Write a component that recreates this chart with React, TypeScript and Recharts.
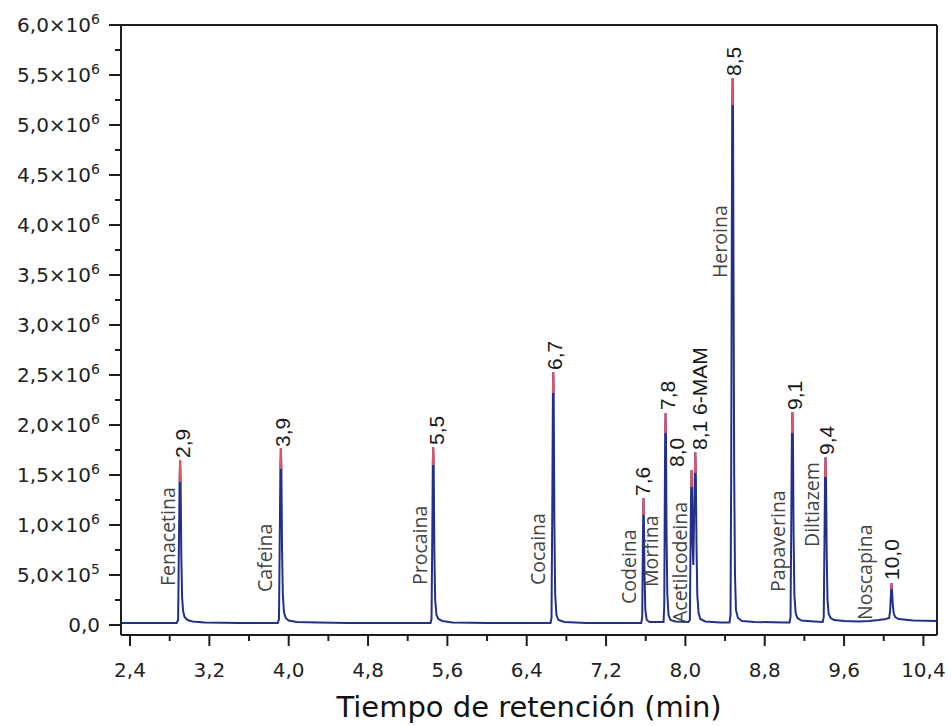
import React from "react";
import {
  ComposedChart,
  Line,
  Scatter,
  XAxis,
  YAxis,
  ReferenceLine,
  Label,
} from "recharts";

// cromatograma: [tiempo (min), intensidad (x10^6)]
const trace: [number, number][] = [
  [2.309, 0.02], [2.6, 0.02], [2.87, 0.02],
  // Fenacetina
  [2.885, 0.05], [2.893, 0.8], [2.9, 1.43], [2.905, 1.65], [2.91, 1.43], [2.917, 0.7],
  [2.925, 0.28], [2.935, 0.14], [2.95, 0.08], [2.98, 0.05], [3.03, 0.035], [3.15, 0.025],
  [3.5, 0.02], [3.89, 0.02],
  // Cafeina
  [3.902, 0.06], [3.91, 0.9], [3.916, 1.56], [3.921, 1.77], [3.926, 1.56], [3.933, 0.75],
  [3.941, 0.3], [3.952, 0.13], [3.97, 0.07], [4.0, 0.045], [4.08, 0.03], [4.3, 0.025],
  [4.6, 0.02], [5.0, 0.02], [5.43, 0.02],
  // Procaina
  [5.44, 0.06], [5.448, 0.9], [5.453, 1.6], [5.457, 1.78], [5.462, 1.6], [5.469, 0.7],
  [5.477, 0.25], [5.49, 0.1], [5.51, 0.06], [5.55, 0.04], [5.65, 0.025], [6.0, 0.02],
  [6.64, 0.02],
  // Cocaina
  [6.65, 0.07], [6.658, 1.2], [6.664, 2.32], [6.668, 2.53], [6.672, 2.32], [6.679, 1.0],
  [6.687, 0.3], [6.7, 0.1], [6.72, 0.05], [6.78, 0.03], [7.0, 0.02], [7.555, 0.02],
  // Codeina
  [7.565, 0.08], [7.572, 0.9], [7.575, 1.1], [7.578, 1.27], [7.581, 1.1], [7.588, 0.5],
  [7.596, 0.15], [7.61, 0.05], [7.64, 0.03], [7.78, 0.03],
  // Morfina
  [7.787, 0.2], [7.792, 1.2], [7.796, 1.92], [7.8, 2.12], [7.804, 1.92], [7.81, 0.9],
  [7.818, 0.3], [7.83, 0.1], [7.85, 0.05], [7.9, 0.035], [8.03, 0.03],
  // Acetilcodeina + 6-MAM
  [8.045, 0.05], [8.053, 0.9], [8.058, 1.38], [8.062, 1.55], [8.066, 1.38], [8.073, 0.8],
  [8.08, 0.6], [8.088, 1.1], [8.095, 1.52], [8.1, 1.73], [8.105, 1.52], [8.112, 0.8],
  [8.12, 0.3], [8.133, 0.12], [8.15, 0.06], [8.2, 0.035], [8.35, 0.025], [8.445, 0.025],
  // Heroina
  [8.455, 0.1], [8.462, 1.6], [8.468, 3.8], [8.472, 5.2], [8.476, 5.47], [8.48, 5.2],
  [8.485, 3.6], [8.492, 1.5], [8.5, 0.5], [8.51, 0.15], [8.53, 0.07], [8.57, 0.04],
  [8.7, 0.03], [9.0, 0.025], [9.05, 0.025],
  // Papaverina
  [9.06, 0.08], [9.068, 1.1], [9.074, 1.92], [9.079, 2.13], [9.084, 1.92], [9.091, 0.9],
  [9.099, 0.3], [9.112, 0.12], [9.13, 0.07], [9.17, 0.045], [9.3, 0.035], [9.385, 0.03],
  // Diltiazem
  [9.395, 0.08], [9.403, 0.9], [9.408, 1.48], [9.413, 1.68], [9.418, 1.48], [9.425, 0.7],
  [9.433, 0.25], [9.445, 0.11], [9.465, 0.07], [9.5, 0.05], [9.6, 0.04], [9.75, 0.035],
  [9.85, 0.04], [9.95, 0.05], [10.02, 0.06], [10.055, 0.07],
  // Noscapina
  [10.065, 0.15], [10.072, 0.3], [10.075, 0.36], [10.079, 0.42], [10.083, 0.36], [10.09, 0.22],
  [10.1, 0.12], [10.115, 0.08], [10.15, 0.06], [10.3, 0.045], [10.537, 0.04],
];

// puntas de los picos (en rojo)
const peakTips: [number, number][][] = [
  [[2.9, 1.43], [2.905, 1.65], [2.91, 1.43]],
  [[3.916, 1.56], [3.921, 1.77], [3.926, 1.56]],
  [[5.453, 1.6], [5.457, 1.78], [5.462, 1.6]],
  [[6.664, 2.32], [6.668, 2.53], [6.672, 2.32]],
  [[7.575, 1.1], [7.578, 1.27], [7.581, 1.1]],
  [[7.796, 1.92], [7.8, 2.12], [7.804, 1.92]],
  [[8.058, 1.38], [8.062, 1.55], [8.066, 1.38]],
  [[8.095, 1.52], [8.1, 1.73], [8.105, 1.52]],
  [[8.472, 5.2], [8.476, 5.47], [8.48, 5.2]],
  [[9.074, 1.92], [9.079, 2.13], [9.084, 1.92]],
  [[9.408, 1.48], [9.413, 1.68], [9.418, 1.48]],
  [[10.075, 0.36], [10.079, 0.42], [10.083, 0.36]],
];

const compoundNames = [
  "Fenacetina", "Cafeina", "Procaina", "Cocaina", "Codeina", "Morfina",
  "Acetilcodeina", "Heroina", "Papaverina", "Diltiazem", "Noscapina",
];
const compoundLabelAt: [number, number][] = [
  [2.783, 0.39], [3.761, 0.33], [5.324, 0.4], [6.514, 0.4], [7.432, 0.21], [7.654, 0.38],
  [7.946, 0.02], [8.349, 3.47], [8.934, 0.33], [9.277, 0.78], [9.811, 0.05],
];

const retentionLabels = [
  "2,9", "3,9", "5,5", "6,7", "7,6", "7,8", "8,0", "8,1 6-MAM", "8,5", "9,1", "9,4", "10,0",
];
const retentionLabelAt: [number, number][] = [
  [2.934, 1.67], [3.943, 1.78], [5.496, 1.8], [6.686, 2.55], [7.573, 1.29], [7.825, 2.15],
  [7.916, 1.58], [8.148, 1.75], [8.491, 5.49], [9.106, 2.15], [9.428, 1.7], [10.084, 0.45],
];

const xMajorTicks = [2.4, 3.2, 4.0, 4.8, 5.6, 6.4, 7.2, 8.0, 8.8, 9.6, 10.4];
const xMinorTicks = [2.8, 3.6, 4.4, 5.2, 6.0, 6.8, 7.6, 8.4, 9.2, 10.0];
const xTickLabels = ["2,4", "3,2", "4,0", "4,8", "5,6", "6,4", "7,2", "8,0", "8,8", "9,6", "10,4"];

const yMajorTicks = [0, 0.5, 1, 1.5, 2, 2.5, 3, 3.5, 4, 4.5, 5, 5.5, 6];
const yMinorTicks = [0.25, 0.75, 1.25, 1.75, 2.25, 2.75, 3.25, 3.75, 4.25, 4.75, 5.25, 5.75];
const yTickMantissa = ["0,0", "5,0", "1,0", "1,5", "2,0", "2,5", "3,0", "3,5", "4,0", "4,5", "5,0", "5,5", "6,0"];
const yTickExponent = ["", "5", "6", "6", "6", "6", "6", "6", "6", "6", "6", "6", "6"];

const X_DOMAIN: [number, number] = [2.309, 10.537];
const Y_DOMAIN: [number, number] = [-0.1, 6];

const AXIS = "#1e1e1e";
const BLUE = "#22308a";
const RED = "#e25560";

const traceData = trace.map(([t, v]) => ({ t, v }));
const tipData = peakTips.flatMap((tip) => [
  ...tip.map(([t, v]) => ({ t, v })),
  { t: tip[tip.length - 1][0], v: null },
]);
const labelData = [
  ...compoundNames.map((text, i) => ({
    t: compoundLabelAt[i][0],
    v: compoundLabelAt[i][1],
    text,
    kind: "name",
  })),
  ...retentionLabels.map((text, i) => ({
    t: retentionLabelAt[i][0],
    v: retentionLabelAt[i][1],
    text,
    kind: "rt",
  })),
];

const XTick = ({ x, y, payload }: any) => {
  const i = xMajorTicks.indexOf(payload.value);
  const major = i >= 0;
  return (
    <g>
      <line x1={x} y1={y} x2={x} y2={y + (major ? 11 : 6)} stroke={AXIS} strokeWidth={2} />
      {major && (
        <text x={x} y={y + 42} textAnchor="middle" fontSize={20} fontFamily="DejaVu Sans" fill="#222">
          {xTickLabels[i]}
        </text>
      )}
    </g>
  );
};

const YTick = ({ x, y, payload }: any) => {
  const i = yMajorTicks.indexOf(payload.value);
  const major = i >= 0;
  return (
    <g>
      <line x1={x - (major ? 12 : 6)} y1={y} x2={x} y2={y} stroke={AXIS} strokeWidth={2} />
      {major && (
        <text x={x - 21} y={y + 7} textAnchor="end" fontSize={20} fontFamily="DejaVu Sans" fill="#222">
          {yTickMantissa[i]}
          {yTickExponent[i] && (
            <>
              ×10
              <tspan dy={-8} fontSize={14}>
                {yTickExponent[i]}
              </tspan>
            </>
          )}
        </text>
      )}
    </g>
  );
};

// etiquetas verticales: nombre del compuesto y tiempo de retención
const PeakLabel = (props: any) => {
  const { cx, cy, payload } = props;
  const isName = payload.kind === "name";
  return (
    <text
      x={cx}
      y={cy}
      dy="0.35em"
      transform={`rotate(-90 ${cx} ${cy})`}
      fontSize={isName ? 19.5 : 21}
      fontFamily={isName ? "'Open Sans'" : "'Liberation Sans'"}
      fill={isName ? "#444" : "#1a1a1a"}
    >
      {payload.text}
    </text>
  );
};

export default function App() {
  return (
    <div style={{ position: "absolute", left: 0, top: 0 }}>
      <ComposedChart width={951} height={726} margin={{ top: 25, right: 14, bottom: 0, left: 0 }}>
        <XAxis
          dataKey="t"
          type="number"
          domain={X_DOMAIN}
          allowDataOverflow
          ticks={[...xMajorTicks, ...xMinorTicks]}
          interval={0}
          tickSize={0}
          tickMargin={0}
          tickLine={false}
          tick={<XTick />}
          height={91}
          axisLine={{ stroke: AXIS, strokeWidth: 2 }}
        >
          <Label
            value="Tiempo de retención (min)"
            position="insideBottom"
            offset={9}
            fontSize={29}
            fontFamily="DejaVu Sans"
            fill="#111"
          />
        </XAxis>
        <YAxis
          type="number"
          domain={Y_DOMAIN}
          allowDataOverflow
          ticks={[...yMajorTicks, ...yMinorTicks]}
          interval={0}
          tickSize={0}
          tickMargin={0}
          tickLine={false}
          tick={<YTick />}
          width={121}
          axisLine={{ stroke: AXIS, strokeWidth: 2 }}
        />
        <ReferenceLine y={6} stroke={AXIS} strokeWidth={2} ifOverflow="visible" />
        <ReferenceLine x={X_DOMAIN[1]} stroke={AXIS} strokeWidth={2} ifOverflow="visible" />
        <Line
          data={traceData}
          dataKey="v"
          type="linear"
          stroke={BLUE}
          strokeWidth={2}
          dot={false}
          activeDot={false}
          isAnimationActive={false}
        />
        <Line
          data={tipData}
          dataKey="v"
          type="linear"
          stroke={RED}
          strokeWidth={2}
          dot={false}
          activeDot={false}
          isAnimationActive={false}
        />
        <Scatter data={labelData} dataKey="v" shape={PeakLabel} isAnimationActive={false} />
      </ComposedChart>
    </div>
  );
}
